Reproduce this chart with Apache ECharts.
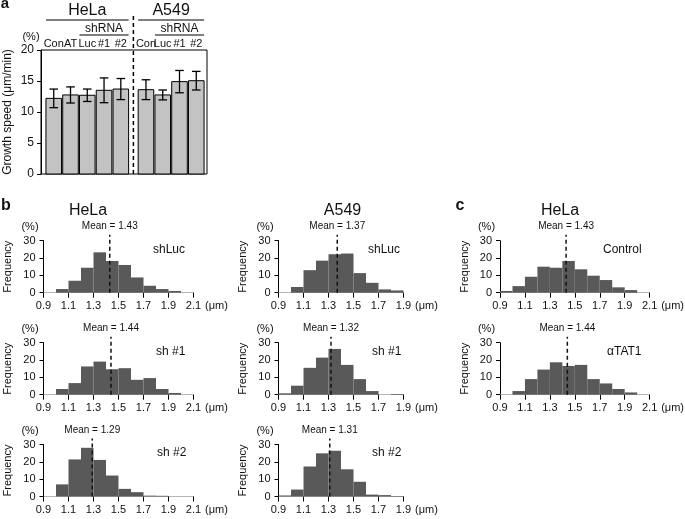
<!DOCTYPE html>
<html><head><meta charset="utf-8">
<script src="https://cdn.jsdelivr.net/npm/echarts@6/dist/echarts.min.js"></script>
<style>html,body{margin:0;padding:0;background:#fff}#c{width:685px;height:519px}</style>
</head><body><div id="c"></div>
<script>
const FONT = '"Liberation Sans", Arial, Helvetica, sans-serif';

// ---------- Panel a data ----------
const aCategories = ['Con','AT','Luc','#1','#2','Con','Luc','#1','#2'];
const aPositions  = [0, 1, 2, 3, 4, 5.5, 6.5, 7.5, 8.5];
const aValues     = [12.2, 12.75, 12.7, 13.5, 13.7, 13.6, 12.75, 14.9, 15.05];
const aErrors     = [1.5, 1.3, 1.0, 2.0, 1.7, 1.6, 0.8, 1.8, 1.5];
const aYTicks     = [0, 5, 10, 15, 20];
const aCellLines  = ['HeLa', 'A549'];
const aCellFrom   = [0, 5.5];
const aCellTo     = [4, 8.5];
const aShRNAFrom  = [2, 6.5];
const aShRNATo    = [4, 8.5];
const aDivider    = 4.75;

// ---------- Histogram data (bin starts, % frequency) ----------
const binsHeLa = [0.9, 1.0, 1.1, 1.2, 1.3, 1.4, 1.5, 1.6, 1.7, 1.8, 1.9, 2.0];
const binsA549 = [0.9, 1.0, 1.1, 1.2, 1.3, 1.4, 1.5, 1.6, 1.7, 1.8];
const binWidth = 0.1;

const freqHeLaShLuc = [0, 2.1, 6.9, 14.4, 23.3, 18.3, 16.0, 8.8, 4.0, 2.1, 1.0, 0];
const freqHeLaSh1   = [0, 3.3, 6.7, 16.3, 19.1, 14.7, 15.3, 8.6, 9.6, 3.3, 1.0, 0];
const freqHeLaSh2   = [0, 7.0, 21.4, 28.1, 21.1, 12.1, 4.4, 2.5, 0.5, 0.4, 0, 0];
const freqA549ShLuc = [0, 3.3, 13.0, 18.5, 22.2, 22.6, 11.3, 5.7, 1.9, 1.3];
const freqA549Sh1   = [0.8, 5.2, 15.5, 21.4, 26.4, 17.2, 9.0, 2.1, 0, 0.4];
const freqA549Sh2   = [0.6, 4.0, 17.3, 24.9, 26.4, 15.7, 8.5, 1.1, 0.8, 0.3];
const freqCControl  = [1.0, 3.8, 9.2, 15.0, 14.4, 18.3, 13.5, 9.8, 7.3, 3.1, 1.5, 0];
const freqCTat1     = [0, 2.1, 9.0, 14.5, 18.7, 16.6, 17.2, 9.0, 6.5, 3.3, 1.3, 0];

const meanHeLaShLuc = 1.43, meanHeLaSh1 = 1.44, meanHeLaSh2 = 1.29;
const meanA549ShLuc = 1.37, meanA549Sh1 = 1.32, meanA549Sh2 = 1.31;
const meanCControl = 1.43, meanCTat1 = 1.44;

const histYTicks = [0, 10, 20, 30];
const histXTicksHeLa = [0.9, 1.1, 1.3, 1.5, 1.7, 1.9, 2.1];
const histXTicksA549 = [0.9, 1.1, 1.3, 1.5, 1.7, 1.9];

// ---------- build option ----------
const grids = [], xAxes = [], yAxes = [], series = [], graphics = [];

function txt(text, x, y, size, opts) {
  opts = opts || {};
  graphics.push({
    type: 'text', x: x, y: y, silent: true,
    style: {
      text: text, fill: '#111',
      font: (opts.bold ? 'bold ' : '') + size + 'px ' + FONT,
      align: opts.align || 'center', textAlign: opts.align || 'center',
      verticalAlign: 'middle', textVerticalAlign: 'middle'
    }
  });
}

// Panel a
grids.push({left: 41, top: 50, width: 166, height: 124, show: true, borderColor: '#000', borderWidth: 1, backgroundColor: 'transparent'});
xAxes.push({type: 'value', gridIndex: 0, min: -0.76, max: 9.14, show: false, axisLine: {onZero: false}});
yAxes.push({
  type: 'value', gridIndex: 0, min: aYTicks[0], max: aYTicks[aYTicks.length - 1], interval: aYTicks[1] - aYTicks[0],
  axisLine: {show: true, onZero: false, lineStyle: {color: '#000', width: 1}},
  axisTick: {show: true, inside: false, length: 4, lineStyle: {color: '#000'}},
  axisLabel: {fontSize: 12, color: '#111', margin: 7, fontFamily: FONT},
  splitLine: {show: false},
  name: 'Growth speed (μm/min)', nameLocation: 'middle', nameRotate: 90, nameGap: 27,
  nameTextStyle: {fontSize: 12, color: '#111', fontFamily: FONT}
});
const barHalf = 0.465;
series.push({
  type: 'custom', xAxisIndex: 0, yAxisIndex: 0,
  data: aPositions.map((p, i) => [p, aValues[i], aErrors[i]]),
  renderItem: function (params, api) {
    const x = api.value(0), v = api.value(1), e = api.value(2);
    const pl = api.coord([x - barHalf, 0]), pr = api.coord([x + barHalf, v]);
    const pc = api.coord([x, v]), ph = api.coord([x, v + e]), plo = api.coord([x, v - e]);
    const cap = 4.3;
    return {type: 'group', children: [
      {type: 'rect', shape: {x: pl[0], y: pr[1], width: pr[0] - pl[0], height: pl[1] - pr[1]}, style: {fill: '#c3c3c3', stroke: '#000', lineWidth: 1}},
      {type: 'line', shape: {x1: pc[0], y1: ph[1], x2: pc[0], y2: plo[1]}, style: {stroke: '#000', lineWidth: 1.3}},
      {type: 'line', shape: {x1: pc[0] - cap, y1: ph[1], x2: pc[0] + cap, y2: ph[1]}, style: {stroke: '#000', lineWidth: 1.3}},
      {type: 'line', shape: {x1: pc[0] - cap, y1: plo[1], x2: pc[0] + cap, y2: plo[1]}, style: {stroke: '#000', lineWidth: 1.3}}
    ]};
  }
});
// category labels above the box
series.push({
  type: 'custom', xAxisIndex: 0, yAxisIndex: 0,
  data: aPositions.map((p, i) => [p, aYTicks[aYTicks.length - 1]]),
  renderItem: function (params, api) {
    const p = api.coord([api.value(0), api.value(1)]);
    return {type: 'text', style: {text: aCategories[params.dataIndex], x: p[0], y: p[1] - 6.5, align: 'center', textAlign: 'center', verticalAlign: 'middle', textVerticalAlign: 'middle', font: '11px ' + FONT, fill: '#111'}};
  }
});
// header groups (cell lines and shRNA)
series.push({
  type: 'custom', xAxisIndex: 0, yAxisIndex: 0,
  data: aCellLines.map((n, i) => [aCellFrom[i], aCellTo[i], aShRNAFrom[i], aShRNATo[i]]),
  renderItem: function (params, api) {
    const top = aYTicks[aYTicks.length - 1];
    const a0 = api.coord([api.value(0) - barHalf, top]), a1 = api.coord([api.value(1) + barHalf, top]);
    const s0 = api.coord([api.value(2) - barHalf, top]), s1 = api.coord([api.value(3) + barHalf, top]);
    const y0 = a0[1];
    return {type: 'group', children: [
      {type: 'line', shape: {x1: a0[0], y1: y0 - 30, x2: a1[0], y2: y0 - 30}, style: {stroke: '#000', lineWidth: 1.2}},
      {type: 'text', style: {text: aCellLines[params.dataIndex], x: (a0[0] + a1[0]) / 2, y: y0 - 39, align: 'center', textAlign: 'center', verticalAlign: 'middle', textVerticalAlign: 'middle', font: '16px ' + FONT, fill: '#111'}},
      {type: 'line', shape: {x1: s0[0], y1: y0 - 15, x2: s1[0], y2: y0 - 15}, style: {stroke: '#000', lineWidth: 1.2}},
      {type: 'text', style: {text: 'shRNA', x: (s0[0] + s1[0]) / 2, y: y0 - 21, align: 'center', textAlign: 'center', verticalAlign: 'middle', textVerticalAlign: 'middle', font: '12px ' + FONT, fill: '#111'}}
    ]};
  }
});
// divider dashed line
series.push({
  type: 'custom', xAxisIndex: 0, yAxisIndex: 0,
  data: [[aDivider, 0]],
  renderItem: function (params, api) {
    const b = api.coord([api.value(0), 0]), t = api.coord([api.value(0), aYTicks[aYTicks.length - 1]]);
    return {type: 'line', shape: {x1: b[0], y1: b[1], x2: b[0], y2: t[1] - 37}, style: {stroke: '#000', lineWidth: 1.5, lineDash: [4, 3]}};
  }
});
txt('(%)', 31, 36.5, 11);
txt('a', 5, 4, 15, {bold: true});

// Histogram panels
const panels = [
  {bins: binsHeLa, freq: freqHeLaShLuc, mean: meanHeLaShLuc, label: 'shLuc', ticks: histXTicksHeLa, left: 43.5, top: 240.7, w: 150, labelX: 153, gap: 9},
  {bins: binsHeLa, freq: freqHeLaSh1,   mean: meanHeLaSh1,   label: 'sh #1', ticks: histXTicksHeLa, left: 43.5, top: 342.7, w: 150, labelX: 156, gap: 9},
  {bins: binsHeLa, freq: freqHeLaSh2,   mean: meanHeLaSh2,   label: 'sh #2', ticks: histXTicksHeLa, left: 43.5, top: 444.5, w: 150, labelX: 157, gap: 9},
  {bins: binsA549, freq: freqA549ShLuc, mean: meanA549ShLuc, label: 'shLuc', ticks: histXTicksA549, left: 278.5, top: 240.7, w: 125, labelX: 368, gap: 4},
  {bins: binsA549, freq: freqA549Sh1,   mean: meanA549Sh1,   label: 'sh #1', ticks: histXTicksA549, left: 278.5, top: 342.7, w: 125, labelX: 372, gap: 4},
  {bins: binsA549, freq: freqA549Sh2,   mean: meanA549Sh2,   label: 'sh #2', ticks: histXTicksA549, left: 278.5, top: 444.5, w: 125, labelX: 372, gap: 4},
  {bins: binsHeLa, freq: freqCControl,  mean: meanCControl,  label: 'Control', ticks: histXTicksHeLa, left: 500, top: 240.7, w: 150, labelX: 603, gap: 9},
  {bins: binsHeLa, freq: freqCTat1,     mean: meanCTat1,     label: 'αTAT1', ticks: histXTicksHeLa, left: 500, top: 342.7, w: 150, labelX: 607, gap: 9}
];

panels.forEach((P, k) => {
  const gi = k + 1;
  const ymax = histYTicks[histYTicks.length - 1];
  grids.push({left: P.left, top: P.top, width: P.w, height: 52});
  xAxes.push({
    type: 'value', gridIndex: gi, min: P.ticks[0], max: P.ticks[P.ticks.length - 1],
    interval: +(P.ticks[1] - P.ticks[0]).toFixed(1),
    axisLine: {show: true, onZero: false, lineStyle: {color: '#b5b5b5', width: 1}},
    axisTick: {show: true, inside: false, length: 5, lineStyle: {color: '#000', width: 1}},
    axisLabel: {fontSize: 11, color: '#111', margin: 8, fontFamily: FONT, formatter: v => (+v).toFixed(1)},
    splitLine: {show: false},
    name: '(μm)', nameLocation: 'end', nameGap: P.gap,
    nameTextStyle: {fontSize: 11, color: '#111', fontFamily: FONT, verticalAlign: 'top', padding: [8, 0, 0, 0]}
  });
  yAxes.push({
    type: 'value', gridIndex: gi, min: histYTicks[0], max: ymax, interval: histYTicks[1] - histYTicks[0],
    axisLine: {show: true, onZero: false, lineStyle: {color: '#000', width: 1}},
    axisTick: {show: true, inside: false, length: 4, lineStyle: {color: '#000'}},
    axisLabel: {fontSize: 11, color: '#111', margin: 8, fontFamily: FONT},
    splitLine: {show: false},
    name: 'Frequency', nameLocation: 'middle', nameRotate: 90, nameGap: 30,
    nameTextStyle: {fontSize: 11, color: '#111', fontFamily: FONT}
  });
  series.push({
    type: 'custom', xAxisIndex: gi, yAxisIndex: gi,
    data: P.bins.map((b, i) => [b, P.freq[i]]),
    renderItem: function (params, api) {
      const x0 = api.value(0), h = api.value(1);
      if (!(h > 0)) return null;
      const p0 = api.coord([x0, 0]), p1 = api.coord([x0 + binWidth, h]);
      return {type: 'rect', shape: {x: p0[0], y: p1[1], width: p1[0] - p0[0], height: p0[1] - p1[1]}, style: {fill: '#595959'}};
    }
  });
  series.push({
    type: 'custom', xAxisIndex: gi, yAxisIndex: gi, z: 5,
    data: [[P.mean, 0]],
    renderItem: function (params, api) {
      const m = api.value(0);
      const b = api.coord([m, 0]), t = api.coord([m, ymax]);
      return {type: 'group', children: [
        {type: 'line', shape: {x1: b[0], y1: b[1], x2: b[0], y2: t[1] - 6}, style: {stroke: '#111', lineWidth: 1.5, lineDash: [4, 3]}},
        {type: 'text', style: {text: 'Mean = ' + m.toFixed(2), x: b[0], y: t[1] - 14, align: 'center', textAlign: 'center', verticalAlign: 'middle', textVerticalAlign: 'middle', font: '10px ' + FONT, fill: '#111'}}
      ]};
    }
  });
  txt(P.label, P.labelX, P.top + 8.5, 12, {align: 'left'});
  txt('(%)', P.left - 13.5, P.top - 14, 11);
});

txt('b', 6, 206, 16, {bold: true});
txt('c', 460, 206, 16, {bold: true});
txt('HeLa', 88, 211, 16);
txt('A549', 342.5, 211, 16);
txt('HeLa', 560, 211, 16);

const chart = echarts.init(document.getElementById('c'), null, {renderer: 'canvas'});
chart.setOption({
  animation: false,
  backgroundColor: '#fff',
  textStyle: {fontFamily: FONT},
  grid: grids, xAxis: xAxes, yAxis: yAxes, series: series, graphic: graphics
});
</script></body></html>
